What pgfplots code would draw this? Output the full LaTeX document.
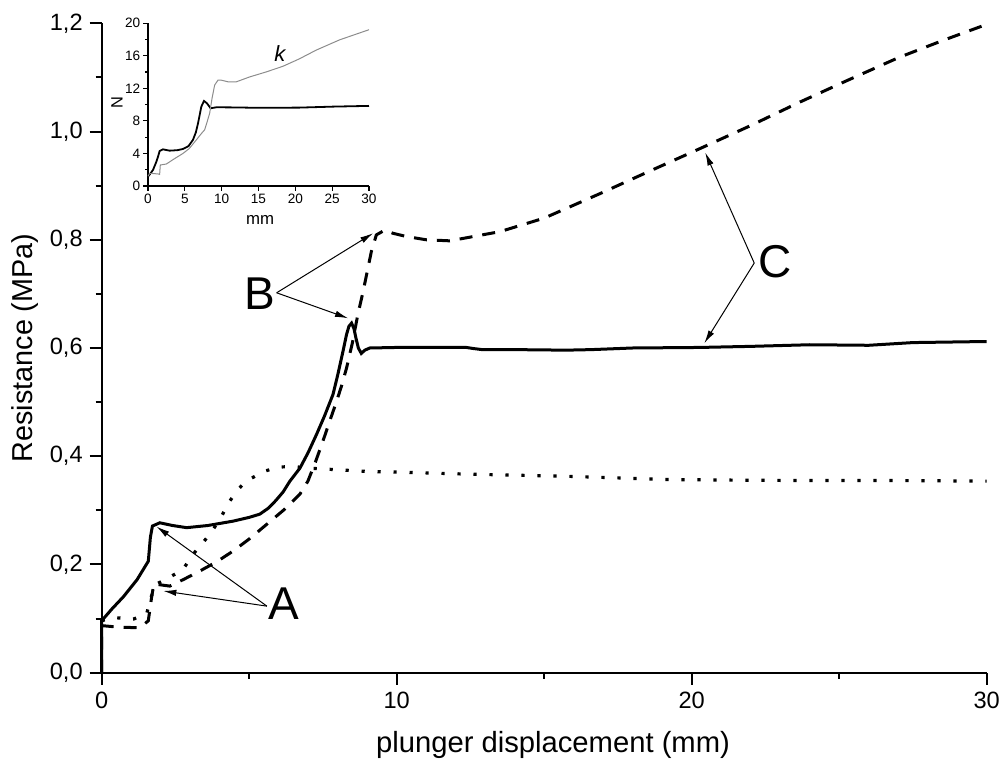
\documentclass[border=0pt]{standalone}
\usepackage{pgfplots}
\pgfplotsset{compat=1.18}
\usepackage{fontspec}
\setmainfont{Liberation Sans}
\usetikzlibrary{arrows.meta}

\begin{document}
\begin{tikzpicture}[x=1pt,y=1pt]
\useasboundingbox (0,0) rectangle (501,380);
\begin{axis}[
  at={(50.85pt,43.65pt)}, anchor=south west,
  scale only axis, width=442.5pt, height=324.7pt,
  xmin=0, xmax=30, ymin=0, ymax=1.2,
  clip=false,
  axis x line*=bottom, axis y line*=left,
  axis line style={line width=1pt, -},
  xtick={0,10,20,30}, minor xtick={5,15,25},
  ytick={0,0.2,0.4,0.6,0.8,1.0,1.2}, minor ytick={0.1,0.3,0.5,0.7,0.9,1.1},
  tick align=outside, major tick length=6pt, minor tick length=3pt,
  every tick/.style={line width=1pt, black},
  /pgf/number format/assume math mode=true,
  ticklabel style={font=\fontsize{11.8}{13}\selectfont},
  yticklabel style={/pgf/number format/.cd, use comma, fixed, fixed zerofill, precision=1},
  xlabel={plunger displacement (mm)},
  ylabel={Resistance (MPa)},
  xlabel style={at={(axis description cs:0.51,-0.1113)}, anchor=center, font=\fontsize{14.6}{16}\selectfont},
  ylabel style={at={(axis description cs:-0.0867,0.5)}, anchor=center, rotate=0, font=\fontsize{14.4}{16}\selectfont},
]
% solid
\addplot[line width=1.5pt, black] coordinates {
(0,0) (0,0.096) (0.35,0.118) (0.73,0.14) (1.2,0.172) (1.58,0.206) (1.65,0.25) (1.72,0.271) (1.97,0.277) (2.4,0.272) (2.88,0.268) (3.6,0.272) (4.45,0.280) (5.0,0.287) (5.36,0.293) (5.65,0.304) (5.9,0.318) (6.15,0.334) (6.38,0.354) (6.72,0.378) (7.0,0.407) (7.28,0.440) (7.55,0.474) (7.84,0.514) (8.0,0.55) (8.18,0.594) (8.3,0.625) (8.38,0.640) (8.47,0.646) (8.55,0.636) (8.62,0.618) (8.70,0.600) (8.80,0.590) (8.92,0.596) (9.09,0.600) (10,0.601) (11,0.601) (12.36,0.601) (12.6,0.599) (12.9,0.597) (14,0.597) (15.75,0.596) (16.6,0.597) (18.0,0.600) (20.26,0.601) (22,0.603) (24,0.606) (26,0.605) (27.5,0.61) (30,0.612)
};
% dashed
\addplot[line width=1.5pt, black, dash pattern=on 6.5pt off 5pt] coordinates {
(0,0) (0,0.087) (0.4,0.085) (0.73,0.084) (1.24,0.083) (1.45,0.09) (1.58,0.096) (1.69,0.139) (1.77,0.164) (2.31,0.160) (2.8,0.173) (3.33,0.188) (3.9,0.205) (4.46,0.225) (5.0,0.247) (5.59,0.274) (6.2,0.302) (6.72,0.330) (6.99,0.354) (7.25,0.39) (7.5,0.428) (7.73,0.465) (7.96,0.501) (8.13,0.53) (8.30,0.563) (8.5,0.61) (8.68,0.661) (8.86,0.704) (9.14,0.778) (9.31,0.809) (9.6,0.818) (9.87,0.812) (10.33,0.806) (11,0.800) (11.8,0.798) (12.5,0.805) (13.5,0.815) (15,0.840) (16.88,0.885) (18.5,0.925) (20.26,0.968) (22,1.011) (23.65,1.054) (25.3,1.095) (27.03,1.137) (28.5,1.168) (30,1.198)
};
% dotted
\addplot[line width=1.6pt, black, dash pattern=on 1.6pt off 6.4pt] coordinates {
(0,0.096) (0.38,0.102) (1.07,0.099) (1.52,0.108) (1.69,0.142) (1.86,0.164) (2.2,0.173) (2.76,0.191) (3.1,0.219) (3.67,0.256) (4.0,0.283) (4.34,0.317) (4.63,0.339) (4.9,0.354) (5.5,0.372) (6.0,0.380) (6.5,0.381) (6.99,0.378) (8,0.375) (8.97,0.372) (10.5,0.37) (12.36,0.367) (14,0.365) (15.75,0.363) (17.5,0.36) (19.1,0.357) (21,0.356) (24,0.355) (27,0.355) (30,0.354)
};
% annotations
\node[font=\fontsize{23}{23}\selectfont] at (axis cs:6.17,0.127) {A};
\node[font=\fontsize{23}{23}\selectfont] at (axis cs:5.36,0.700) {B};
\node[font=\fontsize{23}{23}\selectfont] at (axis cs:22.83,0.759) {C};
\draw[line width=0.5pt, -{Latex[length=6.5pt,width=3.2pt]}] (axis cs:5.6,0.123) -- (axis cs:1.86,0.270);
\draw[line width=0.5pt, -{Latex[length=6.5pt,width=3.2pt]}] (axis cs:5.6,0.123) -- (axis cs:2.09,0.151);
\draw[line width=0.5pt, -{Latex[length=6.5pt,width=3.2pt]}] (axis cs:5.93,0.702) -- (axis cs:9.2,0.812);
\draw[line width=0.5pt, -{Latex[length=6.5pt,width=3.2pt]}] (axis cs:5.93,0.702) -- (axis cs:8.35,0.655);
\draw[line width=0.5pt, -{Latex[length=6.5pt,width=3.2pt]}] (axis cs:22.12,0.757) -- (axis cs:20.46,0.961);
\draw[line width=0.5pt, -{Latex[length=6.5pt,width=3.2pt]}] (axis cs:22.12,0.757) -- (axis cs:20.43,0.609);
\end{axis}

% inset
\begin{axis}[
  at={(74pt,287pt)}, anchor=south west,
  scale only axis, width=110.5pt, height=81.4pt,
  xmin=0, xmax=30, ymin=0, ymax=20,
  clip=false,
  axis x line*=bottom, axis y line*=left,
  axis line style={line width=0.6pt, -},
  xtick={0,5,10,15,20,25,30}, ytick={0,4,8,12,16,20},
  minor ytick={2,6,10,14,18},
  tick align=outside, major tick length=2.5pt, minor tick length=1.5pt,
  every tick/.style={line width=0.6pt, black},
  /pgf/number format/assume math mode=true,
  ticklabel style={font=\fontsize{6.8}{7.5}\selectfont, inner sep=1.2pt},
  xlabel={mm}, ylabel={N},
  xlabel style={at={(axis description cs:0.507,-0.209)}, anchor=center, font=\fontsize{8.4}{9}\selectfont},
  ylabel style={at={(axis description cs:-0.140,0.51)}, anchor=center, font=\fontsize{8.2}{9}\selectfont},
]
\addplot[line width=0.9pt, black] coordinates {
(0,0.3) (0,1.15) (0.3,1.5) (0.68,1.97) (1.1,2.9) (1.36,3.6) (1.58,4.3) (2.04,4.5) (2.94,4.34) (4.0,4.4) (4.75,4.55) (5.5,4.9) (6.1,5.66) (6.5,6.6) (6.79,7.7) (7.24,9.75) (7.6,10.45) (8.0,10.16) (8.5,9.55) (9.28,9.67) (12,9.65) (15,9.6) (20.6,9.63) (25.1,9.75) (30,9.84)
};
\addplot[line width=0.5pt, black!45] coordinates {
(0,1.2) (0.23,1.56) (1.36,1.48) (1.58,1.43) (1.67,2.58) (2.49,2.7) (3.5,3.3) (4.75,4.0) (5.6,4.6) (6.56,5.66) (7.3,6.5) (7.69,6.9) (8.0,7.8) (8.37,8.93) (8.7,10.8) (9.05,12.4) (9.5,13.0) (9.95,13.0) (10.86,12.8) (12.0,12.8) (13.8,13.4) (16,14.0) (18.3,14.7) (20.5,15.6) (22.85,16.7) (26.0,17.95) (30,19.2)
};
\node[font=\fontsize{11}{11}\selectfont\itshape] at (axis cs:17.9,16.3) {k};
\end{axis}
\end{tikzpicture}
\end{document}
